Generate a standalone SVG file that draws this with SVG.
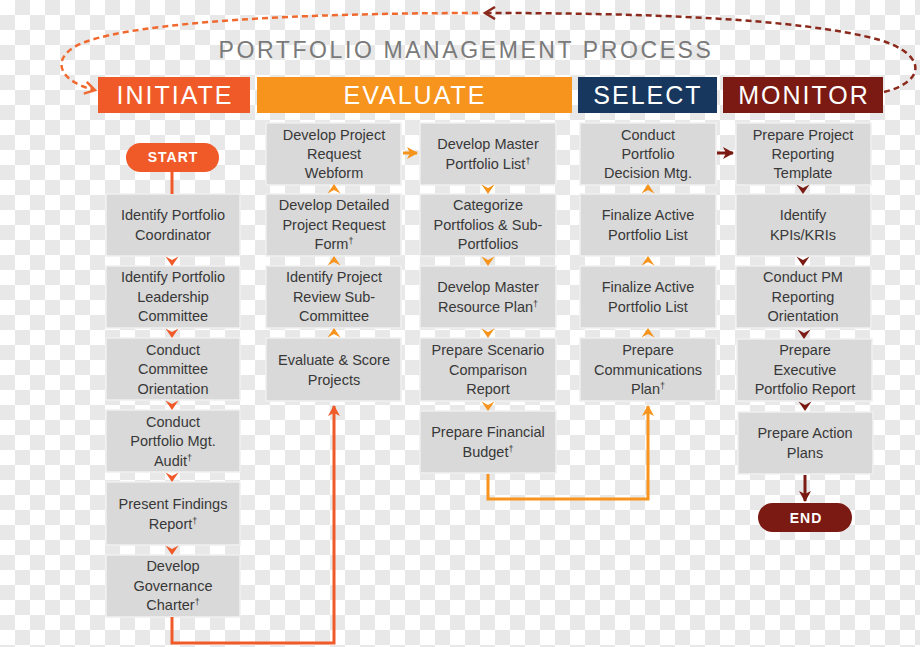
<svg xmlns="http://www.w3.org/2000/svg" width="920" height="647" viewBox="0 0 920 647">
<style>
.box{fill:#d9d9d9;stroke:#f0f0f0;stroke-width:1.5}
.t{font-family:"Liberation Sans",Arial,sans-serif;font-size:14.5px;fill:#383838;text-anchor:middle}
.sup{font-size:9px}
.hdr{font-family:"Liberation Sans",Arial,sans-serif;font-size:25px;fill:#fff;text-anchor:middle;letter-spacing:2px}
.pill{font-family:"Liberation Sans",Arial,sans-serif;font-size:14px;font-weight:bold;fill:#fff;text-anchor:middle;letter-spacing:1px}
.c{fill:none;stroke-width:3}
.dash{fill:none;stroke-width:2.5;stroke-dasharray:6 4}
</style>
<defs>
<pattern id="chk" patternUnits="userSpaceOnUse" width="30" height="30">
<rect x="15" y="0" width="15" height="15" fill="#e8e8e8"/>
<rect x="0" y="15" width="15" height="15" fill="#e8e8e8"/>
</pattern>
<path id="ad" d="M-6.5,-4.5 L0,-1 L6.5,-4.5 L0,5 Z"/>
<marker id="mR" markerUnits="userSpaceOnUse" markerWidth="14" markerHeight="14" refX="10" refY="7" orient="auto"><path d="M0,1 L11,7 L0,13 L3,7 Z" fill="#f05a28"/></marker>
<marker id="mO" markerUnits="userSpaceOnUse" markerWidth="14" markerHeight="14" refX="10" refY="7" orient="auto"><path d="M0,1 L11,7 L0,13 L3,7 Z" fill="#f7941d"/></marker>
<marker id="mD" markerUnits="userSpaceOnUse" markerWidth="14" markerHeight="14" refX="10" refY="7" orient="auto"><path d="M0,1 L11,7 L0,13 L3,7 Z" fill="#7b1a12"/></marker>
<marker id="mDd" markerUnits="userSpaceOnUse" markerWidth="14" markerHeight="14" refX="10" refY="7" orient="auto"><path d="M1,1 L11,7 L1,13" fill="none" stroke="#8b2a1c" stroke-width="2.5"/></marker>
<marker id="mOd" markerUnits="userSpaceOnUse" markerWidth="14" markerHeight="14" refX="10" refY="7" orient="auto"><path d="M1,1 L11,7 L1,13" fill="none" stroke="#f06a30" stroke-width="2.5"/></marker>
</defs>
<rect x="0" y="0" width="920" height="647" fill="#fff"/>
<rect x="0" y="0" width="920" height="647" fill="url(#chk)"/>

<text x="466" y="58" font-family="Liberation Sans,Arial,sans-serif" font-size="23" fill="#7a7a7a" text-anchor="middle" letter-spacing="2.6">PORTFOLIO MANAGEMENT PROCESS</text>

<g id="headers">
<g id="h-initiate"><rect x="98" y="77" width="152" height="36" fill="#f05a28"/><text class="hdr" x="175" y="104">INITIATE</text></g>
<g id="h-evaluate"><rect x="257" y="77" width="315" height="36" fill="#f7941d"/><text class="hdr" x="415" y="104">EVALUATE</text></g>
<g id="h-select"><rect x="578" y="77" width="139" height="36" fill="#17375e"/><text class="hdr" x="648" y="104">SELECT</text></g>
<g id="h-monitor"><rect x="723" y="77" width="160" height="36" fill="#7b1a12"/><text class="hdr" x="804" y="104">MONITOR</text></g>
</g>

<g id="start"><rect x="126" y="143" width="93" height="29" rx="14.5" fill="#f05a28"/><text class="pill" x="173" y="162">START</text></g>
<g id="end"><rect x="758" y="503" width="94" height="29" rx="14.5" fill="#7b1a12"/><text class="pill" x="806" y="523">END</text></g>

<!-- Initiate column -->
<g id="n-i1"><rect class="box" x="106" y="194" width="134" height="62"/><text class="t" x="173" y="220">Identify Portfolio</text><text class="t" x="173" y="240">Coordinator</text></g>
<g id="n-i2"><rect class="box" x="106" y="266" width="134" height="62"/><text class="t" x="173" y="282">Identify Portfolio</text><text class="t" x="173" y="302">Leadership</text><text class="t" x="173" y="321">Committee</text></g>
<g id="n-i3"><rect class="box" x="106" y="338" width="134" height="62"/><text class="t" x="173" y="355">Conduct</text><text class="t" x="173" y="374">Committee</text><text class="t" x="173" y="394">Orientation</text></g>
<g id="n-i4"><rect class="box" x="106" y="410" width="134" height="62"/><text class="t" x="173" y="427">Conduct</text><text class="t" x="173" y="446">Portfolio Mgt.</text><text class="t" x="173" y="466">Audit<tspan class="sup" dy="-5">†</tspan></text></g>
<g id="n-i5"><rect class="box" x="106" y="482" width="134" height="63"/><text class="t" x="173" y="509">Present Findings</text><text class="t" x="173" y="529">Report<tspan class="sup" dy="-5">†</tspan></text></g>
<g id="n-i6"><rect class="box" x="106" y="555" width="134" height="62"/><text class="t" x="173" y="571">Develop</text><text class="t" x="173" y="591">Governance</text><text class="t" x="173" y="610">Charter<tspan class="sup" dy="-5">†</tspan></text></g>

<!-- Evaluate column 1 -->
<g id="n-e1"><rect class="box" x="266" y="123" width="135" height="62"/><text class="t" x="334" y="140">Develop Project</text><text class="t" x="334" y="159">Request</text><text class="t" x="334" y="178">Webform</text></g>
<g id="n-e2"><rect class="box" x="266" y="194" width="135" height="62"/><text class="t" x="334" y="210">Develop Detailed</text><text class="t" x="334" y="230">Project Request</text><text class="t" x="334" y="249">Form<tspan class="sup" dy="-5">†</tspan></text></g>
<g id="n-e3"><rect class="box" x="266" y="266" width="135" height="62"/><text class="t" x="334" y="282">Identify Project</text><text class="t" x="334" y="302">Review Sub-</text><text class="t" x="334" y="321">Committee</text></g>
<g id="n-e4"><rect class="box" x="266" y="338" width="135" height="63"/><text class="t" x="334" y="365">Evaluate &amp; Score</text><text class="t" x="334" y="385">Projects</text></g>

<!-- Evaluate column 2 -->
<g id="n-e5"><rect class="box" x="420" y="123" width="136" height="62"/><text class="t" x="488" y="149">Develop Master</text><text class="t" x="488" y="169">Portfolio List<tspan class="sup" dy="-5">†</tspan></text></g>
<g id="n-e6"><rect class="box" x="420" y="194" width="136" height="62"/><text class="t" x="488" y="210">Categorize</text><text class="t" x="488" y="230">Portfolios &amp; Sub-</text><text class="t" x="488" y="249">Portfolios</text></g>
<g id="n-e7"><rect class="box" x="420" y="266" width="136" height="62"/><text class="t" x="488" y="292">Develop Master</text><text class="t" x="488" y="312">Resource Plan<tspan class="sup" dy="-5">†</tspan></text></g>
<g id="n-e8"><rect class="box" x="420" y="338" width="136" height="63"/><text class="t" x="488" y="355">Prepare Scenario</text><text class="t" x="488" y="375">Comparison</text><text class="t" x="488" y="394">Report</text></g>
<g id="n-e9"><rect class="box" x="420" y="411" width="136" height="62"/><text class="t" x="488" y="437">Prepare Financial</text><text class="t" x="488" y="457">Budget<tspan class="sup" dy="-5">†</tspan></text></g>

<!-- Select column -->
<g id="n-s1"><rect class="box" x="580" y="123" width="136" height="62"/><text class="t" x="648" y="140">Conduct</text><text class="t" x="648" y="159">Portfolio</text><text class="t" x="648" y="178">Decision Mtg.</text></g>
<g id="n-s2"><rect class="box" x="580" y="194" width="136" height="62"/><text class="t" x="648" y="220">Finalize Active</text><text class="t" x="648" y="240">Portfolio List</text></g>
<g id="n-s3"><rect class="box" x="580" y="266" width="136" height="62"/><text class="t" x="648" y="292">Finalize Active</text><text class="t" x="648" y="312">Portfolio List</text></g>
<g id="n-s4"><rect class="box" x="580" y="338" width="136" height="63"/><text class="t" x="648" y="355">Prepare</text><text class="t" x="648" y="375">Communications</text><text class="t" x="648" y="394">Plan<tspan class="sup" dy="-5">†</tspan></text></g>

<!-- Monitor column -->
<g id="n-m1"><rect class="box" x="736" y="123" width="135" height="62"/><text class="t" x="803" y="140">Prepare Project</text><text class="t" x="803" y="159">Reporting</text><text class="t" x="803" y="178">Template</text></g>
<g id="n-m2"><rect class="box" x="736" y="194" width="135" height="62"/><text class="t" x="803" y="220">Identify</text><text class="t" x="803" y="240">KPIs/KRIs</text></g>
<g id="n-m3"><rect class="box" x="736" y="266" width="135" height="62"/><text class="t" x="803" y="282">Conduct PM</text><text class="t" x="803" y="302">Reporting</text><text class="t" x="803" y="321">Orientation</text></g>
<g id="n-m4"><rect class="box" x="737" y="339" width="135" height="62"/><text class="t" x="805" y="355">Prepare</text><text class="t" x="805" y="375">Executive</text><text class="t" x="805" y="394">Portfolio Report</text></g>
<g id="n-m5"><rect class="box" x="738" y="412" width="135" height="62"/><text class="t" x="805" y="438">Prepare Action</text><text class="t" x="805" y="458">Plans</text></g>

<g id="connectors">
<path class="dash" stroke="#8b2a1c" d="M884,92 C925,82 928,55 880,40 C800,18 640,13 486,13" marker-end="url(#mDd)"/>
<path class="dash" stroke="#f06a30" d="M478,13 C300,13 140,22 85,42 C50,55 55,80 94,90" marker-end="url(#mOd)"/>

<path class="c" stroke="#f05a28" d="M172,172 V194"/>
<path class="c" stroke="#f05a28" d="M172,617 V643 H334 V406" marker-end="url(#mR)"/>
<path class="c" stroke="#f7941d" d="M488,474 V499 H648 V406" marker-end="url(#mO)"/>
<path class="c" stroke="#f7941d" d="M403,153 H417" marker-end="url(#mO)"/>
<path class="c" stroke="#7b1a12" d="M717,153 H733" marker-end="url(#mD)"/>
<path class="c" stroke="#7b1a12" d="M805,475 V501" marker-end="url(#mD)"/>

<g fill="#f05a28">
<use href="#ad" x="172" y="261"/><use href="#ad" x="172" y="333"/><use href="#ad" x="172" y="405"/><use href="#ad" x="172" y="477"/><use href="#ad" x="172" y="550"/>
</g>
<g fill="#f7941d">
<use href="#ad" transform="translate(334,189) rotate(180)"/><use href="#ad" transform="translate(334,261) rotate(180)"/><use href="#ad" transform="translate(334,333) rotate(180)"/>
<use href="#ad" x="488" y="189"/><use href="#ad" x="488" y="261"/><use href="#ad" x="488" y="333"/><use href="#ad" x="488" y="406"/>
<use href="#ad" transform="translate(648,189) rotate(180)"/><use href="#ad" transform="translate(648,261) rotate(180)"/><use href="#ad" transform="translate(648,333) rotate(180)"/>
</g>
<g fill="#7b1a12">
<use href="#ad" x="803" y="189"/><use href="#ad" x="803" y="261"/><use href="#ad" x="804" y="334"/><use href="#ad" x="805" y="406"/>
</g>
</g>
</svg>
